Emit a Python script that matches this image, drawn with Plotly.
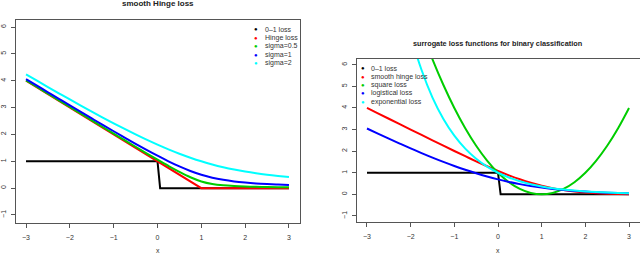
import plotly.graph_objects as go

# ---------------- data ----------------
x_vals = [-3.0, -2.75, -2.5, -2.25, -2.0, -1.75, -1.5, -1.25, -1.0, -0.75, -0.5, -0.25,
          0.0, 0.25, 0.5, 0.75, 1.0, 1.25, 1.5, 1.75, 2.0, 2.25, 2.5, 2.75, 3.0]

# left panel: smooth Hinge loss
zero_one_x = [-3.0, 0.0, 0.06, 3.0]
zero_one_y = [1, 1, 0, 0]
hinge_x = [-3.0, 1.0, 3.0]
hinge_y = [4, 0, 0]
sigma05 = [4.016, 3.767, 3.518, 3.269, 3.021, 2.773, 2.525, 2.277, 2.031, 1.785, 1.541, 1.298,
           1.059, 0.826, 0.604, 0.405, 0.250, 0.155, 0.104, 0.076, 0.059, 0.048, 0.041, 0.035, 0.031]
sigma1 = [4.062, 3.816, 3.570, 3.325, 3.081, 2.838, 2.596, 2.356, 2.118, 1.883, 1.651, 1.425,
          1.207, 1.000, 0.809, 0.640, 0.500, 0.390, 0.309, 0.250, 0.207, 0.175, 0.151, 0.133, 0.118]
sigma2 = [4.236, 4.000, 3.766, 3.533, 3.303, 3.075, 2.851, 2.630, 2.414, 2.204, 2.000, 1.804,
          1.618, 1.443, 1.281, 1.133, 1.000, 0.883, 0.781, 0.693, 0.618, 0.554, 0.500, 0.454, 0.414]

# right panel: surrogate losses
smooth_hinge = [4.000, 3.750, 3.500, 3.250, 3.000, 2.751, 2.502, 2.254, 2.008, 1.766, 1.529, 1.301,
                1.083, 0.881, 0.698, 0.536, 0.399, 0.286, 0.198, 0.131, 0.083, 0.051, 0.029, 0.016, 0.009]
square_loss = [16, 14.0625, 12.25, 10.5625, 9, 7.5625, 6.25, 5.0625, 4, 3.0625, 2.25, 1.5625,
               1, 0.5625, 0.25, 0.0625, 0, 0.0625, 0.25, 0.5625, 1, 1.5625, 2.25, 3.0625, 4]
logistic_loss = [3.049, 2.812, 2.579, 2.350, 2.127, 1.910, 1.701, 1.502, 1.313, 1.137, 0.974, 0.826,
                 0.693, 0.576, 0.474, 0.387, 0.313, 0.252, 0.201, 0.160, 0.127, 0.100, 0.079, 0.062, 0.049]
exponential_loss = [20.09, 15.64, 12.18, 9.49, 7.389, 5.755, 4.482, 3.490, 2.718, 2.117, 1.649, 1.284,
                    1.000, 0.779, 0.607, 0.472, 0.368, 0.287, 0.223, 0.174, 0.135, 0.105, 0.082, 0.064, 0.050]

x_ticks = [-3, -2, -1, 0, 1, 2, 3]
y_ticks = [-1, 0, 1, 2, 3, 4, 5, 6]

left_names = ["0\u20131 loss", "Hinge loss", "sigma=0.5", "sigma=1", "sigma=2"]
right_names = ["0\u20131 loss", "smooth hinge loss", "square loss", "logistical loss", "exponential loss"]
colors = ["#000000", "#FF0000", "#00CD00", "#0000FF", "#00FFFF"]

FONT = "Liberation Sans, Arial, sans-serif"
AX = "#555555"

fig = go.Figure()

left_series = [(zero_one_x, zero_one_y, "linear"), (hinge_x, hinge_y, "linear"),
               (x_vals, sigma05, "spline"), (x_vals, sigma1, "spline"), (x_vals, sigma2, "spline")]
for (xs, ys, shp), name, col in zip(left_series, left_names, colors):
    fig.add_trace(go.Scatter(x=xs, y=ys, mode="lines", name=name, showlegend=False, hoverinfo="skip",
                             line=dict(color=col, width=2, shape=shp), xaxis="x", yaxis="y"))

right_series = [(zero_one_x, zero_one_y, "linear"), (x_vals, smooth_hinge, "spline"),
                (x_vals, square_loss, "spline"), (x_vals, logistic_loss, "spline"),
                (x_vals, exponential_loss, "spline")]
for (xs, ys, shp), name, col in zip(right_series, right_names, colors):
    fig.add_trace(go.Scatter(x=xs, y=ys, mode="lines", name=name, showlegend=False, hoverinfo="skip",
                             line=dict(color=col, width=2, shape=shp), xaxis="x2", yaxis="y2"))

def xaxis(domain, anchor):
    return dict(domain=domain, anchor=anchor, range=[-3.24, 3.24], tickmode="array",
                tickvals=x_ticks, ticktext=[str(t).replace("-", "\u2212") for t in x_ticks],
                ticks="outside", ticklen=4, tickcolor=AX, tickwidth=1, automargin=False,
                ticklabelstandoff=4,
                showline=True, mirror=True, linecolor=AX, linewidth=1,
                showgrid=False, zeroline=False, fixedrange=True,
                tickfont=dict(family=FONT, size=7, color="#333333"))

def yaxis(domain, anchor):
    return dict(domain=domain, anchor=anchor, range=[-1.28, 6.28], tickmode="array",
                tickvals=y_ticks, ticktext=[str(t).replace("-", "\u2212") for t in y_ticks],
                ticks="outside", ticklen=4, tickcolor=AX, tickwidth=1, tickangle=-90,
                automargin=False, ticklabelstandoff=2,
                showline=True, mirror=True, linecolor=AX, linewidth=1,
                showgrid=False, zeroline=False, fixedrange=True,
                tickfont=dict(family=FONT, size=7, color="#333333"))

fig.update_layout(
    width=640, height=254,
    margin=dict(l=0, r=0, t=0, b=0, autoexpand=False),
    paper_bgcolor="white", plot_bgcolor="white",
    showlegend=False,
    xaxis=xaxis([15.5 / 640, 299.5 / 640], "y"),
    yaxis=yaxis([(254 - 222.5) / 254, (254 - 19.5) / 254], "x"),
    xaxis2=xaxis([356.5 / 640, 639.5 / 640], "y2"),
    yaxis2=yaxis([(254 - 222) / 254, (254 - 58.7) / 254], "x2"),
)

ann = []
# titles
ann.append(dict(text="<b>smooth Hinge loss</b>", x=157.5 / 640, y=(254 - 4) / 254,
                xref="paper", yref="paper", xanchor="center", yanchor="middle", showarrow=False,
                font=dict(family=FONT, size=8, color="#222222")))
ann.append(dict(text="<b>surrogate loss functions for binary classification</b>", x=497 / 640,
                y=(254 - 43.3) / 254, xref="paper", yref="paper", xanchor="center", yanchor="middle",
                showarrow=False, font=dict(family=FONT, size=7.3, color="#222222")))
# x labels
for cx in (157.5, 498):
    ann.append(dict(text="x", x=cx / 640, y=(254 - 250) / 254, xref="paper", yref="paper",
                    xanchor="center", yanchor="middle", showarrow=False,
                    font=dict(family=FONT, size=7, color="#333333")))

# legends
def legend(names, dot_x, text_x, rows):
    for name, col, ry in zip(names, colors, rows):
        ann.append(dict(text="\u25CF", x=dot_x / 640, y=(254 - ry) / 254, xref="paper", yref="paper",
                        xanchor="center", yanchor="middle", showarrow=False,
                        font=dict(family=FONT, size=6, color=col)))
        ann.append(dict(text=name, x=text_x / 640, y=(254 - ry) / 254, xref="paper", yref="paper",
                        xanchor="left", yanchor="middle", showarrow=False,
                        font=dict(family=FONT, size=7, color="#333333")))

legend(left_names, 256, 262.5, [29.3, 37.7, 46.2, 54.8, 63.3])
legend(right_names, 363.3, 368.5, [68.3, 76.7, 85.0, 93.3, 101.7])

fig.update_layout(annotations=ann, hovermode=False)
fig.write_html("out.html", config={"displayModeBar": False, "staticPlot": True},
               post_script="document.body.style.margin='0';document.body.style.overflow='hidden';")
